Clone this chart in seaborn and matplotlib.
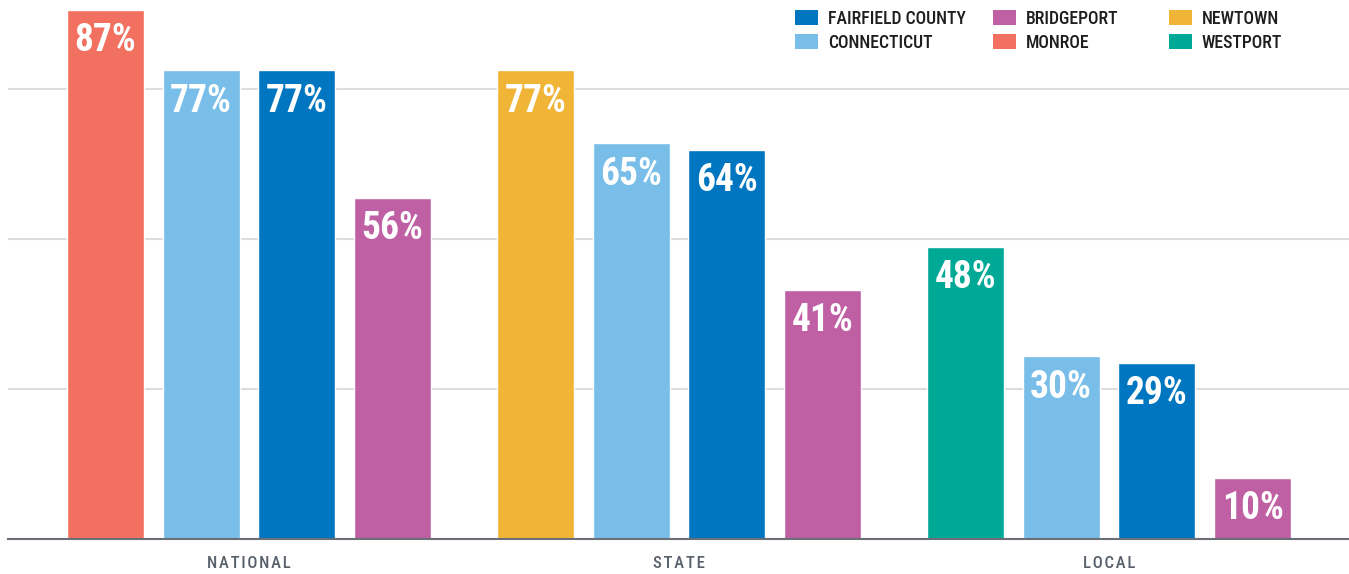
import matplotlib
matplotlib.use("Agg")
import matplotlib.pyplot as plt
from matplotlib.patches import Rectangle
import seaborn as sns
import pandas as pd

# Share of respondents, by level of news coverage
groups = ["NATIONAL", "STATE", "LOCAL"]
towns = ["MONROE", "NEWTOWN", "WESTPORT"]
town_vals = [87, 77, 48]
connecticut_vals = [77, 65, 30]
fairfield_vals = [77, 64, 29]
bridgeport_vals = [56, 41, 10]

series_names = ["TOWN", "CONNECTICUT", "FAIRFIELD COUNTY", "BRIDGEPORT"]
series_vals = [town_vals, connecticut_vals, fairfield_vals, bridgeport_vals]

colors = {
    "FAIRFIELD COUNTY": "#0076C0",
    "CONNECTICUT": "#78BEE8",
    "BRIDGEPORT": "#C060A4",
    "MONROE": "#F27060",
    "NEWTOWN": "#F0B436",
    "WESTPORT": "#00A896",
}
legend_order = [["FAIRFIELD COUNTY", "CONNECTICUT"],
                ["BRIDGEPORT", "MONROE"],
                ["NEWTOWN", "WESTPORT"]]

rows = []
for name, vals in zip(series_names, series_vals):
    for g, v in zip(groups, vals):
        rows.append({"group": g, "series": name, "value": v})
df = pd.DataFrame(rows)

sns.set_theme(style="white")
plt.rcParams["font.family"] = ["Roboto", "DejaVu Sans"]
narrow = ["Roboto Condensed", "Roboto", "DejaVu Sans"]

W, H = 1349, 574
fig = plt.figure(figsize=(W / 100, H / 100), dpi=100)
ax = fig.add_axes([8 / W, 35 / H, 1341 / W, 539 / H])

palette = {"TOWN": "#F27060", "CONNECTICUT": colors["CONNECTICUT"],
           "FAIRFIELD COUNTY": colors["FAIRFIELD COUNTY"],
           "BRIDGEPORT": colors["BRIDGEPORT"]}
sns.barplot(data=df, x="group", y="value", hue="series", order=groups,
            hue_order=series_names, palette=palette, width=0.89, gap=0.195,
            saturation=1, legend=False, ax=ax, zorder=3)

# the first bar of each group belongs to a different town
for bar, town in zip(ax.containers[0], towns):
    bar.set_facecolor(colors[town])

for container, vals in zip(ax.containers, series_vals):
    for bar, v in zip(container, vals):
        ax.annotate(f"{v}%", (bar.get_x() + bar.get_width() / 2, v),
                    xytext=(0, -22), textcoords="offset points",
                    ha="center", va="center", color="white", family=narrow,
                    fontsize=27, fontweight="bold", zorder=4)

ax.set_xlim(-241 / 430, 2 + 240 / 430)
ax.set_ylim(0, 539 / 6.085)
ax.set_yticks([24.65, 49.3, 73.95])
ax.yaxis.grid(True, color="#DDDDDD", linewidth=1.5, zorder=0)
ax.tick_params(axis="y", left=False, labelleft=False)
ax.tick_params(axis="x", bottom=False, pad=6)
ax.set_xticks(range(len(groups)))
ax.set_xticklabels(["\u200a".join(g) for g in groups], fontsize=12,
                   family=narrow, color="#58606B", fontweight="medium")
ax.set_xlabel("")
ax.set_ylabel("")
for side in ["top", "left", "right"]:
    ax.spines[side].set_visible(False)
ax.spines["bottom"].set_color("#6B7078")
ax.spines["bottom"].set_linewidth(1.5)
ax.spines["bottom"].set_zorder(5)

# legend, three columns of two entries
col_x = [795, 993, 1169]
row_y = [17.5, 41.5]
for cx, names in zip(col_x, legend_order):
    for ry, name in zip(row_y, names):
        fig.patches.append(Rectangle((cx / W, 1 - (ry + 7.5) / H), 23 / W, 15 / H,
                                     transform=fig.transFigure,
                                     facecolor=colors[name], edgecolor="none"))
        fig.text((cx + 33) / W, 1 - (ry + 7) / H, name, fontsize=12.8,
                 family=narrow, fontweight="medium", color="#1E1E1E",
                 va="baseline", ha="left")

fig.savefig("out.png", dpi=100)
